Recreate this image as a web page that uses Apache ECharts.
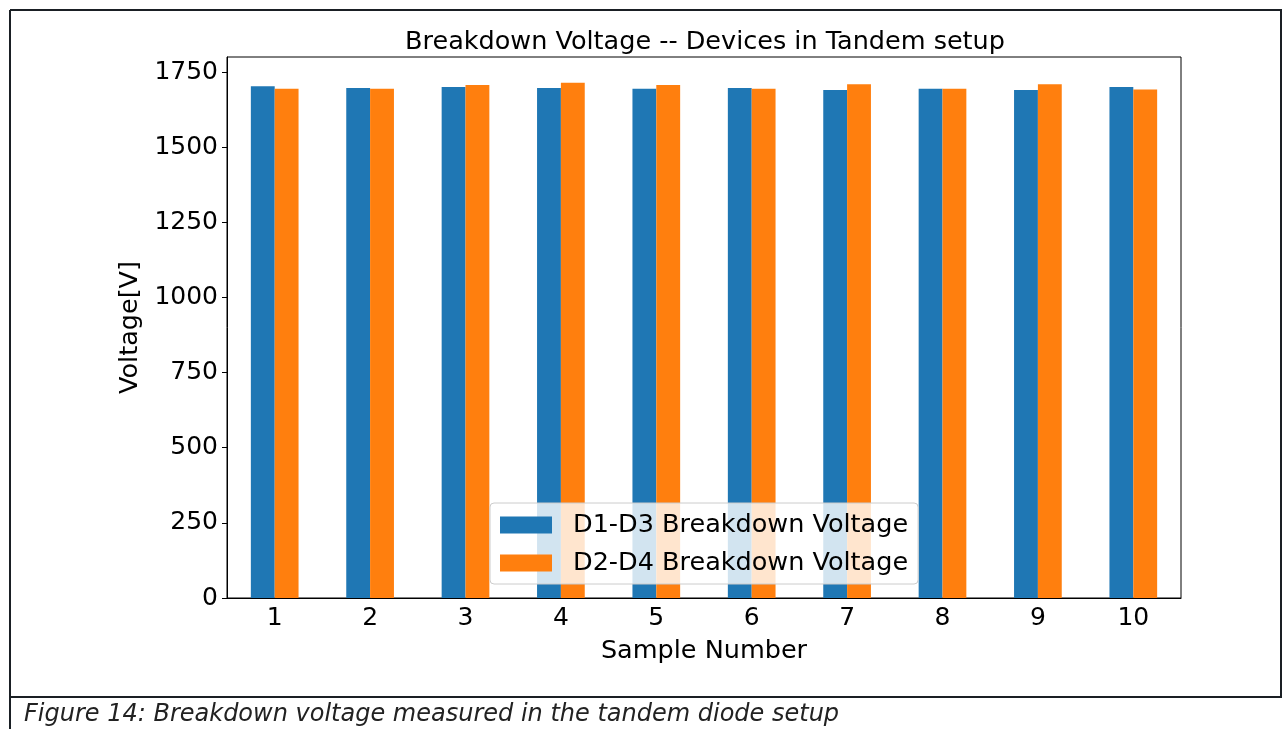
<!DOCTYPE html>
<html>
<head>
<meta charset="utf-8">
<script src="https://cdn.jsdelivr.net/npm/echarts@6/dist/echarts.min.js"></script>
<style>
  html, body { margin: 0; padding: 0; background: #fff; }
  #main { width: 1282px; height: 729px; }
</style>
</head>
<body>
<div id="main"></div>
<script>
// samples on the x axis
var samples = ['1', '2', '3', '4', '5', '6', '7', '8', '9', '10']
// breakdown voltages
var d1d3 = [1703, 1697, 1700, 1697, 1694, 1697, 1690, 1694, 1690, 1700]
var d2d4 = [1694, 1694, 1707, 1714, 1707, 1694, 1709, 1694, 1709, 1692]
var yTicks = [0, 250, 500, 750, 1000, 1250, 1500, 1750]

var font = 'DejaVu Sans'
var myChart = echarts.init(document.getElementById('main'))

var option = {
  animation: false,
  backgroundColor: '#fff',
  color: ['#1f77b4', '#ff7f0e'],
  title: {
    text: 'Breakdown Voltage -- Devices in Tandem setup',
    left: 700,
    textAlign: 'center',
    top: 24,
    textStyle: { fontFamily: font, fontSize: 25.5, fontWeight: 'normal', color: '#000' }
  },
  grid: {
    left: 227, right: 101, top: 57, bottom: 131,
    show: true, borderColor: '#000', borderWidth: 1, backgroundColor: 'transparent'
  },
  legend: {
    orient: 'vertical',
    left: 490,
    top: 503,
    itemWidth: 52,
    itemHeight: 17,
    itemGap: 12,
    icon: 'rect',
    padding: [9, 10, 8, 10],
    backgroundColor: 'rgba(255,255,255,0.8)',
    borderColor: '#cccccc',
    borderWidth: 1,
    borderRadius: 4,
    textStyle: { fontFamily: font, fontSize: 25.5, lineHeight: 25, color: '#000', padding: [0, 0, 0, 16] },
    data: ['D1-D3 Breakdown Voltage', 'D2-D4 Breakdown Voltage']
  },
  xAxis: {
    type: 'category',
    data: samples,
    name: 'Sample Number',
    nameLocation: 'middle',
    nameGap: 40,
    nameTextStyle: { fontFamily: font, fontSize: 25.5, color: '#000' },
    axisLine: { lineStyle: { color: '#000', width: 1 } },
    axisTick: { alignWithLabel: true, length: 5, lineStyle: { color: '#000' } },
    axisLabel: { fontFamily: font, fontSize: 25, color: '#000', margin: 8 }
  },
  yAxis: {
    type: 'value',
    min: 0,
    max: 1800,
    name: 'Voltage[V]',
    nameLocation: 'middle',
    nameGap: 79,
    nameTextStyle: { fontFamily: font, fontSize: 25.5, color: '#000' },
    splitLine: { show: false },
    axisLine: { show: true, lineStyle: { color: '#000', width: 1 } },
    axisTick: { show: true, length: 5, lineStyle: { color: '#000' }, customValues: yTicks },
    axisLabel: {
      fontFamily: font, fontSize: 25, color: '#000', margin: 9, customValues: yTicks,
      formatter: function (v) { return String(v) }
    }
  },
  series: [
    {
      name: 'D1-D3 Breakdown Voltage',
      type: 'bar',
      data: d1d3,
      barWidth: '25%',
      barGap: '0%'
    },
    {
      name: 'D2-D4 Breakdown Voltage',
      type: 'bar',
      data: d2d4,
      barWidth: '25%',
      barGap: '0%'
    }
  ],
  graphic: [
    { type: 'line', shape: { x1: 10, y1: 10, x2: 10, y2: 729 }, style: { stroke: '#1a1f24', lineWidth: 2 } },
    { type: 'line', shape: { x1: 10, y1: 10, x2: 1282, y2: 10 }, style: { stroke: '#1a1f24', lineWidth: 2 } },
    { type: 'line', shape: { x1: 1281, y1: 10, x2: 1281, y2: 697 }, style: { stroke: '#1a1f24', lineWidth: 2 } },
    { type: 'line', shape: { x1: 10, y1: 697, x2: 1282, y2: 697 }, style: { stroke: '#1a1f24', lineWidth: 2 } },
    {
      type: 'text',
      left: 24,
      top: 703,
      style: {
        text: 'Figure 14: Breakdown voltage measured in the tandem diode setup',
        font: 'italic 24px "DejaVu Sans"',
        fill: '#222'
      }
    }
  ]
}

myChart.setOption(option)
</script>
</body>
</html>
